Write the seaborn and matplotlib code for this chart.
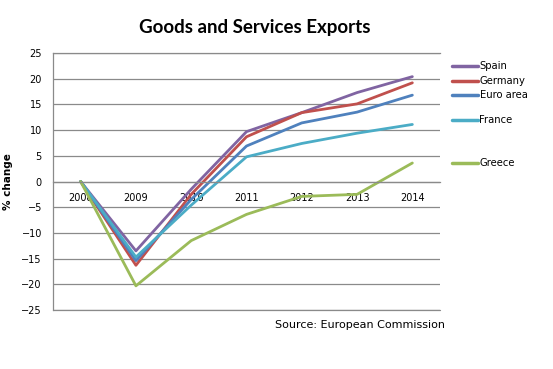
import pandas as pd
import matplotlib
matplotlib.use("Agg")
import matplotlib.pyplot as plt
import seaborn as sns
from matplotlib.lines import Line2D

# data (% change vs 2008)
years = ["2008", "2009", "2010", "2011", "2012", "2013", "2014"]
spain = [0, -13.5, -1.5, 9.7, 13.4, 17.3, 20.4]
germany = [0, -16.3, -2.5, 8.7, 13.4, 15.1, 19.2]
euro_area = [0, -15.4, -3.5, 6.9, 11.4, 13.5, 16.8]
france = [0, -14.7, -4.6, 4.8, 7.4, 9.4, 11.1]
greece = [0, -20.3, -11.5, -6.4, -2.9, -2.5, 3.6]

series_names = ["Spain", "Germany", "Euro area", "France", "Greece"]
colors = ["#8064A2", "#C0504D", "#4F81BD", "#4BACC6", "#9BBB59"]

frames = []
for name, vals in zip(series_names, [spain, germany, euro_area, france, greece]):
    frames.append(pd.DataFrame({"year": years, "value": vals, "country": name}))
df = pd.concat(frames, ignore_index=True)

sns.set_theme(style="white")
plt.rcParams["font.family"] = ["DejaVu Sans"]
plt.rcParams["text.color"] = "black"

fig = plt.figure(figsize=(5.53, 3.69), dpi=100)
ax = fig.add_axes([53 / 553, 1 - 310 / 369, (440 - 53) / 553, (310 - 53) / 369])

sns.lineplot(data=df, x="year", y="value", hue="country", hue_order=series_names,
             palette=colors, linewidth=2.0, sort=False, legend=False, ax=ax)

gray = "#8a8a8a"
ax.set_xlim(-0.5, len(years) - 0.5)
ax.set_ylim(-25, 25)
ax.set_yticks(range(-25, 30, 5))
ax.yaxis.grid(True, color=gray, linewidth=0.9)
ax.axhline(-25, color=gray, linewidth=0.9, clip_on=False, zorder=0)
ax.set_axisbelow(True)

for side in ["left", "top", "bottom"]:
    ax.spines[side].set_color(gray)
    ax.spines[side].set_linewidth(0.9)
ax.spines["right"].set_visible(False)
ax.spines["bottom"].set_position(("data", 0))
ax.tick_params(axis="y", length=0, pad=8, labelsize=7, labelcolor="black")
ax.tick_params(axis="x", length=0, pad=8, labelsize=7, labelcolor="black")
ax.set_xlabel("")
ax.set_ylabel("% change", fontsize=7.5, fontweight="bold", labelpad=6, color="black")

fig.text(255 / 553, 1 - 27 / 369, "Goods and Services Exports", ha="center", va="center",
         fontsize=13.5, fontweight="bold", family=["Lato", "DejaVu Sans"])
fig.text(275 / 553, 1 - 325 / 369, "Source: European Commission", ha="left", va="center",
         fontsize=8)

# legend entries sit at uneven heights, one small legend per series
legend_y = [66, 81, 95, 120, 163]
for name, col, yy in zip(series_names, colors, legend_y):
    h = Line2D([], [], color=col, linewidth=2.5)
    lg = fig.legend([h], [name], loc="center left", bbox_to_anchor=(452 / 553, 1 - yy / 369),
                    frameon=False, fontsize=7.2, handlelength=2.6, handletextpad=0.15,
                    borderpad=0, borderaxespad=0)
    for t in lg.get_texts():
        t.set_color("black")

fig.savefig("out.png", dpi=100)
